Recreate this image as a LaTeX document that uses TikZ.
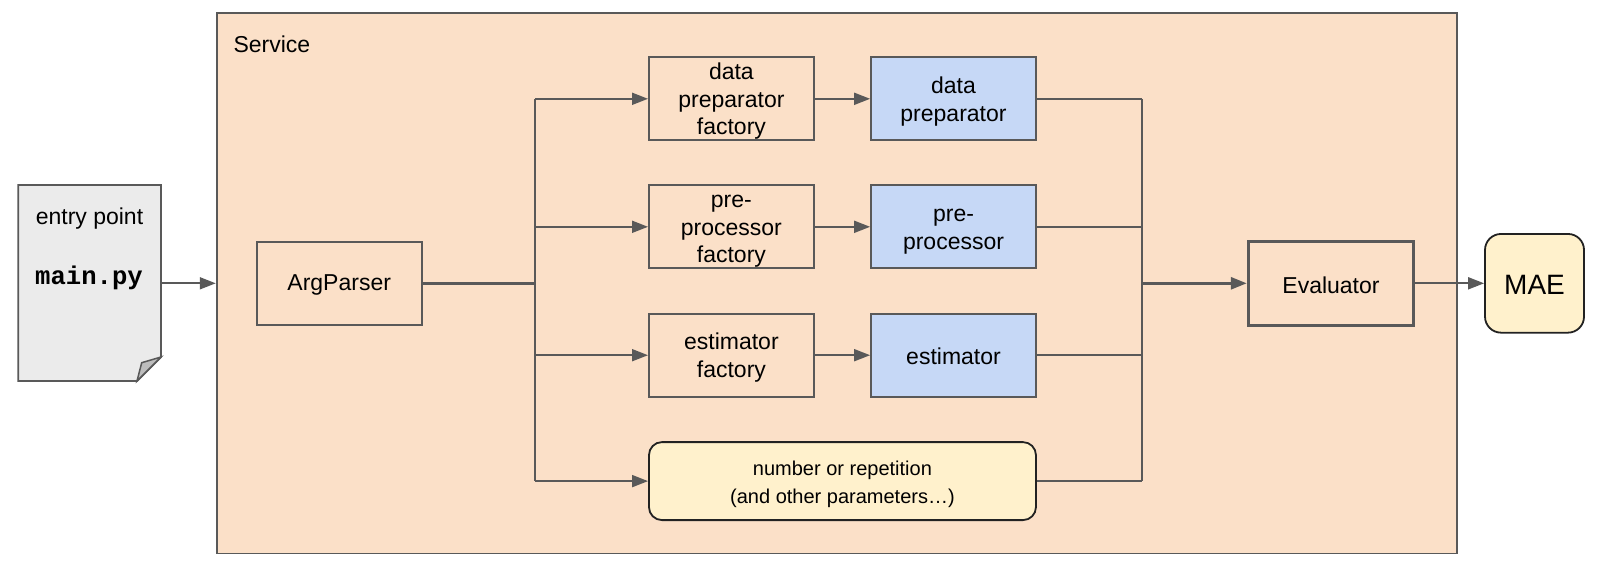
\documentclass[tikz,border=0pt]{standalone}
\usepackage{fontspec}
\setmainfont{Liberation Sans}
\setmonofont{Liberation Mono}
\usetikzlibrary{arrows.meta}
\definecolor{peach}{HTML}{FBE0C8}
\definecolor{lblue}{HTML}{C6D8F6}
\definecolor{lyellow}{HTML}{FFF1CC}
\definecolor{docgray}{HTML}{EBEBEB}
\definecolor{foldgray}{HTML}{BDBDBD}
\definecolor{edge}{HTML}{595959}
\definecolor{dark}{HTML}{222222}
\newcommand\mltext[1]{\raisebox{-3pt}[\height][\depth]{\begin{tabular}{@{}c@{}}#1\end{tabular}}}
\newcommand\sltext[1]{\raisebox{-1.5pt}[\height][\depth]{#1}}
\begin{document}
\begin{tikzpicture}[x=1pt,y=-1pt,
  every node/.style={font=\fontsize{23}{27.6}\selectfont, text=black, align=center, inner sep=0pt},
  box/.style={draw=edge, line width=1.8pt, rectangle, minimum width=165pt, minimum height=83pt},
  factorybox/.style={box, fill=peach},
  bluebox/.style={box, fill=lblue},
  arr/.style={draw=edge, line width=1.8pt, -{Triangle[length=16pt,width=12pt]}},
  ln/.style={draw=edge, line width=1.8pt},
  thickln/.style={draw=edge, line width=2.8pt}
]
\useasboundingbox (0,0) rectangle (1605,568);
% service container
\node[draw=edge, line width=1.8pt, fill=peach, minimum width=1240pt, minimum height=540.5pt] (svc) at (836.65,283.3) {};
\node[anchor=west] (svclabel) at (233.3,44) {Service};
% entry point document
\draw[draw=edge, line width=1.8pt, fill=docgray] (18.3,185) -- (161,185) -- (161,357) -- (137,381) -- (18.3,381) -- cycle;
\draw[draw=edge, line width=1.5pt, fill=foldgray] (161,357) -- (141.7,362.7) -- (137,381) -- cycle;
\node (entry) at (89.5,218.3) {entry point};
\node (mainpy) at (89,277.5) {\fontsize{25.6}{30}\selectfont\ttfamily\bfseries main.py};
\coordinate (docout) at (161,283.3);
% boxes
\node[factorybox] (arg) at (339.2,283.3) {\sltext{ArgParser}};
\node[factorybox] (f1) at (731.4,98.8) {\mltext{data\\preparator\\factory}};
\node[factorybox] (f2) at (731.4,226.8) {\mltext{pre-\\processor\\factory}};
\node[factorybox] (f3) at (731.4,355.2) {\mltext{estimator\\factory}};
\node[bluebox] (b1) at (953.5,98.8) {\mltext{data\\preparator}};
\node[bluebox] (b2) at (953.5,226.8) {\mltext{pre-\\processor}};
\node[bluebox] (b3) at (953.5,355.2) {\sltext{estimator}};
\node[draw=dark, line width=1.8pt, fill=lyellow, rounded corners=13pt, minimum width=387pt, minimum height=78pt,
      font=\fontsize{20}{27.6}\selectfont] (num) at (842.45,481.1) {\mltext{number or repetition\\(and other parameters…)}};
\node[draw=edge, line width=3.5pt, fill=peach, minimum width=165pt, minimum height=84pt] (ev) at (1331,283.3) {\sltext{Evaluator}};
\node[draw=dark, line width=1.8pt, fill=lyellow, rounded corners=16pt, minimum width=99pt, minimum height=98.7pt,
      font=\fontsize{28}{32}\selectfont] (mae) at (1534.5,283.3) {\sltext{MAE}};
% buses
\coordinate (busL) at (535.3,283.3);
\coordinate (busR) at (1142.3,283.3);
% connectors
\draw[arr] (docout) -- (docout -| svc.west);
\draw[thickln] (arg.east) -- (busL |- arg.east);
\draw[ln] (busL |- f1.west) -- (busL |- num.west);
\draw[arr] (busL |- f1.west) -- (f1.west);
\draw[arr] (busL |- f2.west) -- (f2.west);
\draw[arr] (busL |- f3.west) -- (f3.west);
\draw[arr] (busL |- num.west) -- (num.west);
\draw[arr] (f1.east) -- (b1.west);
\draw[arr] (f2.east) -- (b2.west);
\draw[arr] (f3.east) -- (b3.west);
\draw[ln] (b1.east) -- (busR |- b1.east);
\draw[ln] (b2.east) -- (busR |- b2.east);
\draw[ln] (b3.east) -- (busR |- b3.east);
\draw[ln] (num.east) -- (busR |- num.east);
\draw[ln] (busR |- b1.east) -- (busR |- num.east);
\draw[arr, line width=2.8pt] (busR |- ev.west) -- (ev.west);
\draw[arr] (ev.east) -- (mae.west);
\end{tikzpicture}
\end{document}
